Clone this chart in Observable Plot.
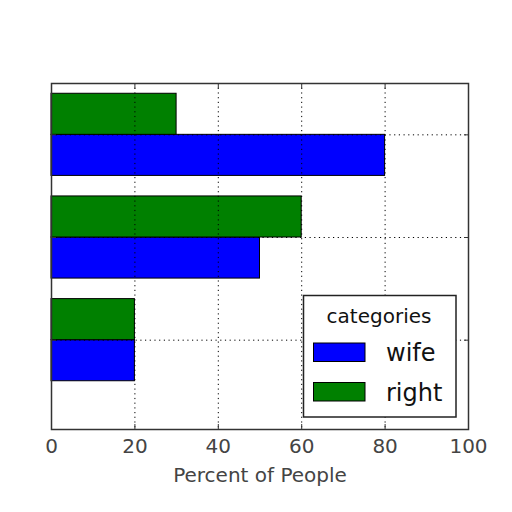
<!DOCTYPE html>
<html>
<head>
<meta charset="utf-8">
<script src="https://cdn.jsdelivr.net/npm/d3@7"></script>
<script src="https://cdn.jsdelivr.net/npm/@observablehq/plot@0.6"></script>
<style>
  html, body { margin: 0; padding: 0; background: #fff; }
  #chart { position: relative; width: 512px; height: 512px; }
</style>
</head>
<body>
<div id="chart"></div>
<script>
// ---- data (bottom group first) ----
const groups = ["group 1", "group 2", "group 3"];
const wife = [20, 50, 80];
const right = [20, 60, 30];
const seriesNames = ["wife", "right"];
const seriesColors = ["#0000ff", "#008000"];
const xTicks = [0, 20, 40, 60, 80, 100];
const xLabel = "Percent of People";
const legendTitle = "categories";

// ---- build table ----
const barH = 0.4;
const seriesValues = [wife, right];
const rows = [];
groups.forEach((g, i) => {
  seriesNames.forEach((s, j) => {
    rows.push({group: g, series: s, value: seriesValues[j][i], y1: i + j * barH, y2: i + (j + 1) * barH});
  });
});
const gridY = groups.map((g, i) => i + barH);
const yDomain = [-0.47, groups.length - 1 + 0.9];

const font = "DejaVu Sans, sans-serif";
const plot = Plot.plot({
  width: 512,
  height: 512,
  marginLeft: 51,
  marginRight: 44,
  marginTop: 83,
  marginBottom: 83,
  style: {fontFamily: font, background: "#fff"},
  x: {domain: [0, 100]},
  y: {domain: yDomain},
  color: {domain: seriesNames, range: seriesColors},
  marks: [
    Plot.rectX(rows, {x1: 0, x2: "value", y1: "y1", y2: "y2", fill: "series", stroke: "#000", strokeWidth: 1}),
    Plot.ruleX(xTicks.slice(1, -1), {stroke: "#000", strokeDasharray: "1.2,3.5", strokeWidth: 1}),
    Plot.ruleY(gridY, {stroke: "#000", strokeDasharray: "1.2,3.5", strokeWidth: 1}),
    Plot.axisX({ticks: xTicks, anchor: "bottom", tickSize: -5, text: null, label: null, stroke: "#333"}),
    Plot.axisX({ticks: xTicks, anchor: "top", tickSize: -5, text: null, label: null, stroke: "#333"}),
    Plot.axisY({ticks: gridY, anchor: "right", tickSize: -5, text: null, label: null, stroke: "#333"}),
    Plot.axisY({ticks: gridY, anchor: "left", tickSize: -5, text: null, label: null, stroke: "#333"}),
    Plot.axisX({ticks: xTicks, anchor: "bottom", tickSize: 0, tickPadding: 9, fontSize: 20, fill: "#444", label: null}),
    Plot.text([xLabel], {frameAnchor: "bottom", dy: 46, fontSize: 20, fill: "#444", lineAnchor: "middle"}),
    Plot.frame({stroke: "#333", strokeWidth: 1.5})
  ]
});
document.getElementById("chart").appendChild(plot);

// ---- legend (inside the plot area, lower right) ----
const svg = d3.select(plot);
const lg = svg.append("g").attr("font-family", font);
lg.append("rect").attr("x", 303.5).attr("y", 295.5).attr("width", 152.5).attr("height", 121.5)
  .attr("fill", "#fff").attr("stroke", "#222").attr("stroke-width", 1.5);
lg.append("text").attr("x", 379).attr("y", 316).attr("text-anchor", "middle").attr("dominant-baseline", "central")
  .attr("font-size", 20).attr("fill", "#111").text(legendTitle);
seriesNames.forEach((s, j) => {
  const top = 343 + j * 39.5;
  lg.append("rect").attr("x", 313.5).attr("y", top).attr("width", 51.5).attr("height", 18.5)
    .attr("fill", seriesColors[j]).attr("stroke", "#000").attr("stroke-width", 1);
  lg.append("text").attr("x", 386).attr("y", top + 18).attr("text-anchor", "start")
    .attr("font-size", 24).attr("fill", "#111").text(s);
});
</script>
</body>
</html>
